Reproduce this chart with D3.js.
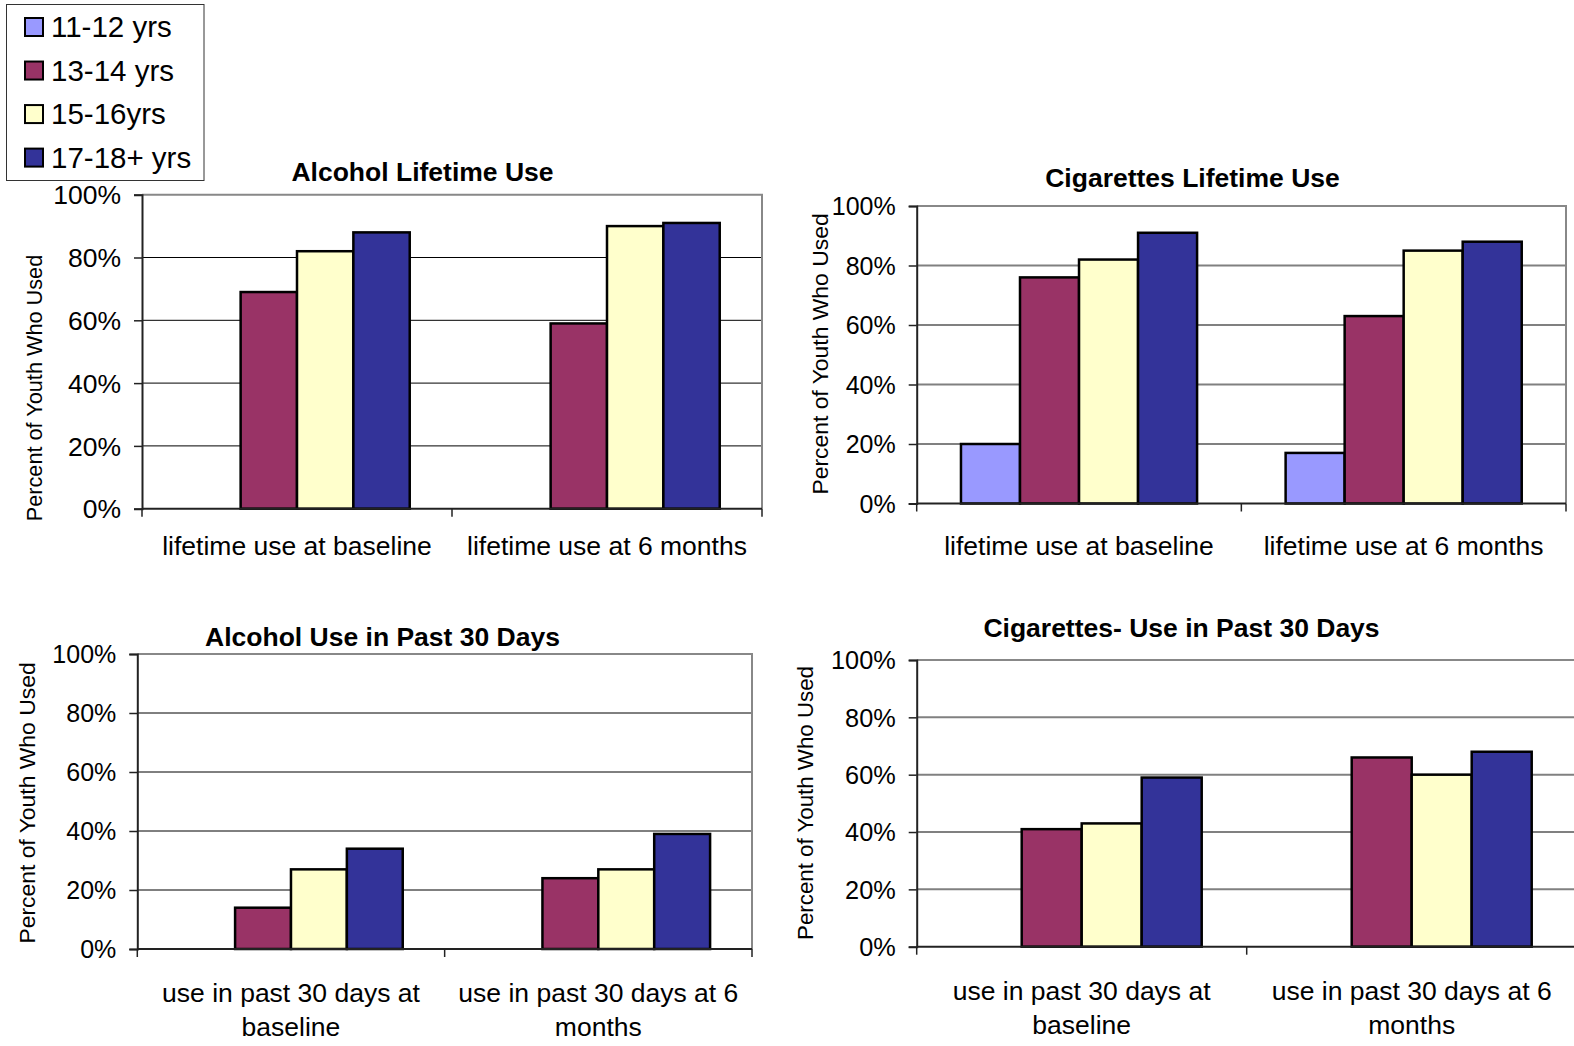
<!DOCTYPE html>
<head>
  <meta charset="utf-8">
  <script src="https://d3js.org/d3.v7.min.js"></script>
  <style>
    body { margin:0; background-color:#fff; }
    svg { display:block; font-family:"Liberation Sans", Arial, sans-serif; }
  </style>
</head>
<body>
<div class="chart-container"></div>
<script>
// data (percent of youth)
var ageGroups = ["11-12 yrs", "13-14 yrs", "15-16yrs", "17-18+ yrs"];
var lifetimeCats = ["lifetime use at baseline", "lifetime use at 6 months"];
var past30Cats = ["use in past 30 days at baseline", "use in past 30 days at 6 months"];
var alcoholLifetime = [[0, 69, 82, 88], [0, 59, 90, 91]];
var cigLifetime = [[20, 76, 82, 91], [17, 63, 85, 88]];
var alcohol30 = [[0, 14, 27, 34], [0, 24, 27, 39]];
var cig30 = [[0, 41, 43, 59], [0, 66, 60, 68]];
var yTicks = [0, 20, 40, 60, 80, 100];

var colors = ["#9999ff", "#993366", "#ffffcc", "#333399"];

var svg = d3.select(".chart-container").append("svg")
  .attr("width", 1574)
  .attr("height", 1046);

// panel boxes
var panels = [
  {title: "Alcohol Lifetime Use", cats: lifetimeCats, values: alcoholLifetime,
   left: 142, top: 194.7, right: 762, bottom: 508.7, titleX: 422.5, titleY: 181,
   yTitleX: 34, yTitleY: 388, yTitleSize: 21.7, tickSize: 26.5, catGap: 46,
   grid: "#000", gridW: 1},
  {title: "Cigarettes Lifetime Use", cats: lifetimeCats, values: cigLifetime,
   left: 916.7, top: 206, right: 1566, bottom: 503.5, titleX: 1192.5, titleY: 187,
   yTitleX: 820, yTitleY: 354, yTitleSize: 22.9, tickSize: 25, catGap: 51,
   grid: "#808080", gridW: 2},
  {title: "Alcohol Use in Past 30 Days", cats: past30Cats, values: alcohol30,
   left: 137.3, top: 654, right: 752, bottom: 949, titleX: 382.5, titleY: 646,
   yTitleX: 27, yTitleY: 803, yTitleSize: 22.9, tickSize: 25, catGap: 53,
   grid: "#000", gridW: 1},
  {title: "Cigarettes- Use in Past 30 Days", cats: past30Cats, values: cig30,
   left: 916.7, top: 660, right: 1576.7, bottom: 946.7, titleX: 1181.5, titleY: 637,
   yTitleX: 805, yTitleY: 803, yTitleSize: 22.3, tickSize: 25.3, catGap: 53.5,
   grid: "#808080", gridW: 2}
];

panels.forEach(function(p) {
  var g = svg.append("g");

  var y = d3.scaleLinear().domain([0, 100]).range([p.bottom, p.top]);
  var x0 = d3.scaleBand().domain(p.cats).range([p.left, p.right]);
  var x1 = d3.scaleBand().domain(ageGroups).range([0, x0.bandwidth()])
    .paddingInner(0).paddingOuter(0.75);

  // gridlines
  g.selectAll("line.grid").data(yTicks.slice(1, -1)).enter().append("line")
    .attr("x1", p.left).attr("x2", p.right)
    .attr("y1", function(d) { return y(d); }).attr("y2", function(d) { return y(d); })
    .attr("stroke", p.grid).attr("stroke-width", p.gridW);

  // plot border top / right
  g.append("path")
    .attr("d", "M" + p.left + "," + p.top + "H" + p.right + "V" + p.bottom)
    .attr("fill", "none").attr("stroke", "#888").attr("stroke-width", 2);

  // bars
  p.cats.forEach(function(c, ci) {
    g.selectAll(null).data(p.values[ci]).enter()
      .filter(function(d) { return d > 0; })
      .append("rect")
      .attr("x", function(d) { return x0(c) + x1(ageGroups[p.values[ci].indexOf(d)]); })
      .attr("y", function(d) { return y(d); })
      .attr("width", x1.bandwidth())
      .attr("height", function(d) { return p.bottom - y(d); })
      .attr("fill", function(d) { return colors[p.values[ci].indexOf(d)]; })
      .attr("stroke", "#000").attr("stroke-width", 2.5);
  });

  // y axis
  var yAxis = d3.axisLeft(y).tickValues(yTicks).tickSize(8).tickPadding(13)
    .tickFormat(function(d) { return d + "%"; });
  var ya = g.append("g").attr("transform", "translate(" + p.left + ",0)").call(yAxis);
  ya.select(".domain").attr("stroke", "#222").attr("stroke-width", 2);
  ya.selectAll(".tick line").attr("stroke", "#222").attr("stroke-width", 1.5);
  ya.selectAll("text").attr("font-size", p.tickSize).attr("fill", "#000")
    .attr("font-family", "Liberation Sans, Arial, sans-serif").attr("dy", "0.35em");

  // x axis line + category boundary ticks
  g.append("line").attr("x1", p.left).attr("x2", p.right)
    .attr("y1", p.bottom).attr("y2", p.bottom)
    .attr("stroke", "#222").attr("stroke-width", 2);
  var bounds = p.cats.map(function(c) { return x0(c); }).concat([p.right]);
  g.selectAll("line.xt").data(bounds).enter().append("line")
    .attr("x1", function(d) { return d; }).attr("x2", function(d) { return d; })
    .attr("y1", p.bottom).attr("y2", p.bottom + 8)
    .attr("stroke", "#222").attr("stroke-width", 1.5);

  // category labels, wrapped to the band
  p.cats.forEach(function(c) {
    var cx = x0(c) + x0.bandwidth() / 2;
    var t = g.append("text")
      .attr("x", cx)
      .attr("y", p.bottom + p.catGap)
      .attr("text-anchor", "middle")
      .attr("font-size", 26.5);
    var words = c.split(" "), line = [];
    var ts = t.append("tspan").attr("x", cx).attr("dy", 0);
    words.forEach(function(w) {
      line.push(w);
      ts.text(line.join(" "));
      if (ts.node().getComputedTextLength() > x0.bandwidth() - 10 && line.length > 1) {
        line.pop();
        ts.text(line.join(" "));
        line = [w];
        ts = t.append("tspan").attr("x", cx).attr("dy", 34).text(w);
      }
    });
  });

  // title
  g.append("text").attr("x", p.titleX).attr("y", p.titleY)
    .attr("text-anchor", "middle").attr("font-size", 26.5).attr("font-weight", "bold")
    .text(p.title);

  // y title
  g.append("text")
    .attr("transform", "translate(" + p.yTitleX + "," + p.yTitleY + ") rotate(-90)")
    .attr("text-anchor", "middle").attr("dominant-baseline", "central")
    .attr("font-size", p.yTitleSize)
    .text("Percent of Youth Who Used");
});

// legend
var legend = svg.append("g");
legend.append("rect").attr("x", 6.5).attr("y", 4.5).attr("width", 197.5).attr("height", 176)
  .attr("fill", "#fff").attr("stroke", "#333").attr("stroke-width", 1);
var ly = d3.scalePoint().domain(ageGroups).range([27, 157.6]);
legend.selectAll("rect.sw").data(ageGroups).enter().append("rect")
  .attr("x", 25).attr("y", function(d) { return ly(d) - 9; })
  .attr("width", 18).attr("height", 18)
  .attr("fill", function(d, i) { return colors[i]; })
  .attr("stroke", "#000").attr("stroke-width", 2);
legend.selectAll("text").data(ageGroups).enter().append("text")
  .attr("x", 51).attr("y", function(d) { return ly(d); })
  .attr("dy", "0.35em").attr("font-size", 29.5)
  .text(function(d) { return d; });
</script>
</body>
